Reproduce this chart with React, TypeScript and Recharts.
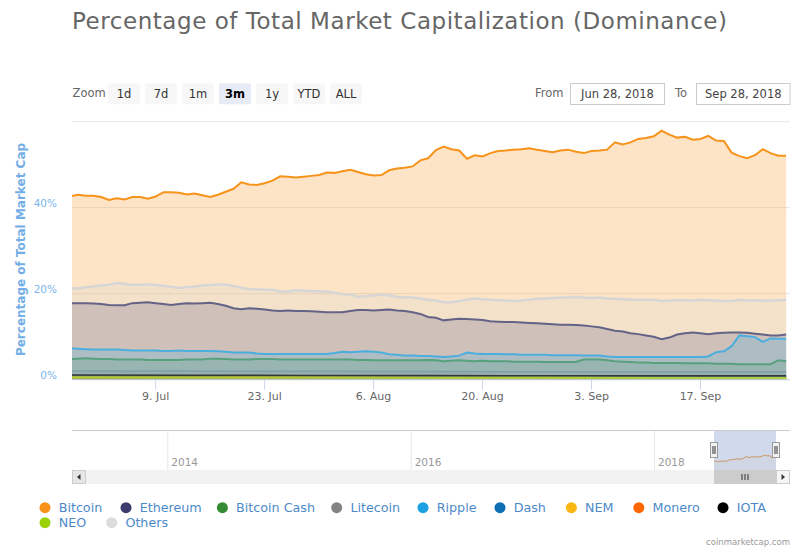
import React from 'react';
import { AreaChart, Area, XAxis, YAxis, CartesianGrid } from 'recharts';

// ---------- data (percent of total market cap), daily from Jun 28, 2018 ----------
const bitcoin = [
  42.6, 43.0, 42.8, 42.8, 42.5, 41.8, 42.2, 41.9, 42.5, 42.5,
  42.1, 42.6, 43.6, 43.6, 43.5, 43.1, 43.3, 42.9, 42.5, 43.0,
  43.7, 44.4, 45.9, 45.4, 45.3, 45.7, 46.3, 47.3, 47.2, 47.0,
  47.2, 47.4, 47.6, 48.2, 48.1, 48.5, 48.8, 48.3, 47.8, 47.5,
  47.6, 48.7, 49.1, 49.3, 49.6, 51.0, 51.5, 53.4, 54.2, 53.6,
  53.3, 51.4, 52.2, 51.9, 52.7, 53.2, 53.3, 53.5, 53.6, 53.8,
  53.5, 53.2, 52.9, 53.3, 53.5, 53.0, 52.7, 53.2, 53.3, 53.5,
  55.2, 54.7, 55.2, 56.0, 56.2, 56.6, 57.9, 57.0, 56.3, 56.5,
  55.8, 56.0, 56.7, 55.6, 55.5, 52.8, 52.0, 51.5, 52.2, 53.6,
  52.7, 52.1, 52.1,
];
const others = [
  21.3, 21.2, 21.5, 21.7, 21.9, 22.1, 22.5, 22.3, 22.0, 22.1,
  22.2, 22.0, 21.8, 21.6, 21.3, 21.5, 21.7, 21.9, 22.0, 22.2,
  22.1, 21.8, 21.4, 21.1, 21.0, 20.9, 20.9, 20.5, 20.5, 20.8,
  20.7, 20.6, 20.5, 20.5, 20.2, 19.9, 19.8, 19.3, 19.4, 19.6,
  19.8, 19.6, 19.3, 19.2, 19.1, 18.9, 18.6, 18.4, 18.0, 18.0,
  18.3, 18.6, 18.9, 18.7, 18.6, 18.5, 18.4, 18.3, 18.4, 18.6,
  18.8, 18.9, 19.0, 19.1, 19.1, 19.3, 19.1, 19.0, 19.1, 18.9,
  18.8, 18.7, 18.6, 18.6, 18.6, 18.6, 18.3, 18.4, 18.5, 18.5,
  18.4, 18.6, 18.5, 18.4, 18.3, 18.3, 18.6, 18.4, 18.5, 18.4,
  18.4, 18.5, 18.6,
];
const ethereum = [
  17.8, 17.8, 17.8, 17.7, 17.6, 17.4, 17.3, 17.3, 17.8, 17.9,
  18.0, 17.8, 17.6, 17.4, 17.6, 17.8, 17.7, 17.8, 17.9, 17.6,
  17.2, 16.6, 16.4, 16.6, 16.5, 16.3, 16.1, 16.0, 16.1, 16.0,
  16.0, 15.9, 15.8, 15.7, 15.7, 15.7, 16.0, 16.2, 16.2, 16.1,
  16.2, 16.3, 16.1, 16.0, 15.7, 15.3, 14.6, 14.4, 13.8, 14.0,
  14.2, 14.1, 14.0, 13.9, 13.6, 13.5, 13.4, 13.4, 13.3, 13.2,
  13.1, 13.0, 12.9, 12.8, 12.8, 12.7, 12.6, 12.4, 12.2, 11.8,
  11.4, 11.2, 10.8, 10.6, 10.3, 10.0, 9.4, 9.8, 10.5, 10.8,
  11.0, 10.8, 10.6, 10.8, 10.9, 11.0, 11.0, 10.9, 10.7, 10.5,
  10.3, 10.3, 10.5,
];
const ripple = [
  7.3, 7.2, 7.1, 7.0, 7.0, 7.0, 7.0, 6.9, 6.8, 6.8,
  6.8, 6.8, 6.7, 6.7, 6.8, 6.7, 6.7, 6.7, 6.7, 6.6,
  6.5, 6.3, 6.3, 6.3, 6.1, 6.0, 6.0, 6.0, 6.0, 6.0,
  6.0, 6.0, 6.0, 6.0, 6.2, 6.5, 6.4, 6.5, 6.6, 6.5,
  6.3, 5.9, 5.8, 5.6, 5.6, 5.5, 5.5, 5.4, 5.3, 5.4,
  5.6, 6.3, 6.1, 6.0, 6.0, 6.0, 5.9, 5.9, 5.8, 5.8,
  5.8, 5.8, 5.7, 5.7, 5.7, 5.7, 5.6, 5.6, 5.6, 5.4,
  5.3, 5.3, 5.3, 5.3, 5.3, 5.3, 5.3, 5.3, 5.3, 5.3,
  5.3, 5.3, 5.4, 6.4, 6.6, 7.8, 10.3, 10.1, 9.9, 8.8,
  9.6, 9.5, 9.5,
];
const bitcoinCash = [
  4.8, 4.9, 5.0, 4.9, 4.8, 4.8, 4.7, 4.7, 4.7, 4.7,
  4.6, 4.6, 4.6, 4.6, 4.6, 4.7, 4.7, 4.7, 4.9, 4.9,
  4.8, 4.7, 4.7, 4.7, 4.8, 4.8, 4.8, 4.7, 4.7, 4.7,
  4.7, 4.7, 4.7, 4.7, 4.7, 4.7, 4.7, 4.6, 4.6, 4.5,
  4.5, 4.5, 4.5, 4.5, 4.5, 4.5, 4.6, 4.5, 4.3, 4.4,
  4.5, 4.4, 4.3, 4.4, 4.3, 4.3, 4.3, 4.2, 4.2, 4.2,
  4.2, 4.1, 4.1, 4.1, 4.1, 4.1, 4.7, 4.7, 4.7, 4.5,
  4.3, 4.2, 4.1, 4.0, 4.0, 3.9, 3.9, 3.9, 3.9, 3.8,
  3.8, 3.8, 3.8, 3.7, 3.7, 3.7, 3.6, 3.6, 3.6, 3.6,
  3.6, 4.5, 4.3,
];

// smaller coins, read at a few dates (day offsets from Jun 28, 2018)
const smallDays = [0, 15, 30, 46, 61, 76, 92];
const litecoin = [2.0, 2.0, 1.95, 1.9, 1.85, 1.8, 1.8];
const iota = [1.1, 1.05, 1.0, 0.95, 0.9, 0.9, 0.9];
const dash = [0.8, 0.8, 0.75, 0.7, 0.65, 0.6, 0.6];
const monero = [0.6, 0.6, 0.6, 0.55, 0.55, 0.5, 0.5];
const neo = [0.55, 0.5, 0.5, 0.45, 0.45, 0.4, 0.4];
const nem = [0.45, 0.45, 0.4, 0.4, 0.35, 0.35, 0.35];

const xTicks = [11, 25, 39, 53, 67, 81];
const xTickLabels = ['9. Jul', '23. Jul', '6. Aug', '20. Aug', '3. Sep', '17. Sep'];
const yTicks = [0, 20, 40, 60];
const rangeButtons = ['1d', '7d', '1m', '3m', '1y', 'YTD', 'ALL'];
const selectedRange = '3m';
const fromDate = 'Jun 28, 2018';
const toDate = 'Sep 28, 2018';
const navigatorYears = ['2014', '2016', '2018'];

const legendNames = ['Bitcoin', 'Ethereum', 'Bitcoin Cash', 'Litecoin', 'Ripple', 'Dash', 'NEM', 'Monero', 'IOTA', 'NEO', 'Others'];
const legendColors = ['#f7931a', '#3c3c6c', '#358a34', '#838383', '#1ba1e2', '#0d6db5', '#fcb614', '#ff6600', '#000000', '#9ad10a', '#dcdcdc'];

// ---------- layout ----------
const FONT = '"DejaVu Sans", Verdana, sans-serif';
const legendLayout = [
  [45, 507.7], [126, 507.7], [222.4, 507.7], [336.7, 507.7], [423, 507.7],
  [500, 507.7], [571.4, 507.7], [638.8, 507.7], [723, 507.7],
  [45, 522.7], [111.7, 522.7],
];
const buttonX = [108, 145, 182, 219, 256, 293, 330];
const navYearX = [167.3, 410.7, 654];

const rows = bitcoin.map((v, i) => ({
  t: i,
  bitcoin: v,
  ethereum: ethereum[i],
  bitcoinCash: bitcoinCash[i],
  ripple: ripple[i],
  others: others[i],
}));
const smallRows = smallDays.map((t, i) => ({
  t,
  litecoin: litecoin[i],
  dash: dash[i],
  nem: nem[i],
  monero: monero[i],
  iota: iota[i],
  neo: neo[i],
}));

const XTick = (props: any) => {
  const { x, y, payload } = props;
  const idx = xTicks.indexOf(payload.value);
  return (
    <text x={x} y={y + 8.3} textAnchor="middle" fontSize={11} fill="#666" fontFamily={FONT}>
      {xTickLabels[idx]}
    </text>
  );
};
const YTick = (props: any) => {
  const { x, y, payload } = props;
  if (payload.value === 60) return <g />;
  return (
    <text x={x} y={y - 1} textAnchor="end" fontSize={10.5} fill="#7cb5ec" fontFamily={FONT}>
      {payload.value}%
    </text>
  );
};

const DOMAIN_X: [number, number] = [0.25, 92.5];

function mainArea(key: string, color: string, width: number, data?: any[]) {
  return (
    <Area
      key={key}
      type="linear"
      dataKey={key}
      data={data}
      stroke={color}
      strokeWidth={width}
      fill={color}
      fillOpacity={0.25}
      dot={false}
      activeDot={false}
      isAnimationActive={false}
    />
  );
}

export default function App() {
  return (
    <div style={{ position: 'absolute', left: 0, top: 0, width: 800, height: 550, background: '#fff', fontFamily: FONT }}>
      {/* static decorations */}
      <svg width={800} height={550} style={{ position: 'absolute', left: 0, top: 0 }}>
        <text x={72} y={28.6} fontSize={23} fill="#666" textLength={655} lengthAdjust="spacing" fontFamily={FONT}>
          Percentage of Total Market Capitalization (Dominance)
        </text>
        <text x={72.5} y={97.3} fontSize={11.5} fill="#666" fontFamily={FONT}>Zoom</text>
        {rangeButtons.map((b, i) => (
          <g key={b}>
            <rect x={buttonX[i]} y={83.3} width={32} height={21} rx={2} fill={b === selectedRange ? '#e6ebf5' : '#f7f7f7'} />
            <text x={buttonX[i] + 16} y={97.5} textAnchor="middle" fontSize={11.5} fontWeight={b === selectedRange ? 'bold' : 'normal'} fill={b === selectedRange ? '#000' : '#333'} fontFamily={FONT}>{b}</text>
          </g>
        ))}
        <text x={535} y={97.3} fontSize={11.5} fill="#666" fontFamily={FONT}>From</text>
        <rect x={570.5} y={83.5} width={94} height={21} fill="#fff" stroke="#cccccc" />
        <text x={617.5} y={97.5} textAnchor="middle" fontSize={11.5} fill="#444" fontFamily={FONT}>{fromDate}</text>
        <text x={675} y={97.3} fontSize={11.5} fill="#666" fontFamily={FONT}>To</text>
        <rect x={696.5} y={83.5} width={93.5} height={21} fill="#fff" stroke="#cccccc" />
        <text x={743.3} y={97.5} textAnchor="middle" fontSize={11.5} fill="#444" fontFamily={FONT}>{toDate}</text>

        <text transform="translate(20.7,249.5) rotate(-90)" dy="0.36em" textAnchor="middle" fontSize={12} fontWeight="bold" fill="#74aee6" fontFamily={FONT}>
          Percentage of Total Market Cap
        </text>

        {/* navigator */}
        <line x1={72} x2={790} y1={430.5} y2={430.5} stroke="#cccccc" />
        {navigatorYears.map((yr, i) => (
          <g key={yr}>
            <line x1={navYearX[i] + 0.5} x2={navYearX[i] + 0.5} y1={431} y2={470} stroke="#e6e6e6" />
            <text x={navYearX[i] + 4} y={466.3} fontSize={10.5} fill="#999" fontFamily={FONT}>{yr}</text>
          </g>
        ))}
        <rect x={72} y={470} width={718} height={14} fill="#f2f2f2" />
        <rect x={72.5} y={470.5} width={13} height={13} fill="#e6e6e6" stroke="#cccccc" />
        <path d="M 80.5 474 L 77 477 L 80.5 480 Z" fill="#333" />
        <rect x={714} y={470} width={62} height={14} fill="#cccccc" />
        <line x1={742} x2={742} y1={474} y2={480} stroke="#333" />
        <line x1={745} x2={745} y1={474} y2={480} stroke="#333" />
        <line x1={748} x2={748} y1={474} y2={480} stroke="#333" />
        <rect x={776.5} y={470.5} width={13} height={13} fill="#f5f5f5" stroke="#cccccc" />
        <path d="M 781.5 474 L 785 477 L 781.5 480 Z" fill="#333" />

        {/* legend */}
        {legendNames.map((n, i) => (
          <g key={n}>
            <circle cx={legendLayout[i][0]} cy={legendLayout[i][1]} r={5.5} fill={legendColors[i]} />
            <text x={legendLayout[i][0] + 13.7} y={legendLayout[i][1] + 4.6} fontSize={12.7} fill="#4d8ac9" fontFamily={FONT}>{n}</text>
          </g>
        ))}
        <text x={790} y={545} textAnchor="end" fontSize={8.5} fill="#999" fontFamily={FONT}>coinmarketcap.com</text>
      </svg>

      {/* main chart */}
      <div style={{ position: 'absolute', left: 0, top: 0 }}>
        <AreaChart width={800} height={420} data={rows} margin={{ top: 121.7, right: 10, bottom: 10.3, left: 0 }}>
          <CartesianGrid vertical={false} stroke="#e6e6e6" />
          <XAxis
            type="number"
            dataKey="t"
            domain={DOMAIN_X}
            allowDataOverflow
            ticks={xTicks}
            interval={0}
            height={30}
            tickSize={10}
            tickMargin={2}
            axisLine={{ stroke: '#ccd6eb' }}
            tickLine={{ stroke: '#ccd6eb' }}
            tick={(p: any) => <XTick {...p} />}
          />
          <YAxis
            type="number"
            domain={[0, 60]}
            ticks={yTicks}
            interval={0}
            width={72}
            tickSize={0}
            tickMargin={15}
            axisLine={false}
            tickLine={false}
            tick={(p: any) => <YTick {...p} />}
          />
          {mainArea('bitcoin', legendColors[0], 2)}
          {mainArea('ethereum', legendColors[1], 2)}
          {mainArea('bitcoinCash', legendColors[2], 2)}
          {mainArea('litecoin', legendColors[3], 1.5, smallRows)}
          {mainArea('ripple', legendColors[4], 2)}
          {mainArea('dash', legendColors[5], 1.5, smallRows)}
          {mainArea('nem', legendColors[6], 1.5, smallRows)}
          {mainArea('monero', legendColors[7], 1.5, smallRows)}
          {mainArea('iota', legendColors[8], 1.5, smallRows)}
          {mainArea('neo', legendColors[9], 2, smallRows)}
          {mainArea('others', '#d6d6d6', 2.5)}
        </AreaChart>
      </div>

      {/* navigator series */}
      <div style={{ position: 'absolute', left: 714, top: 430 }}>
        <AreaChart width={62} height={40} data={rows} margin={{ top: 0, right: 0, bottom: 0, left: 0 }}>
          <XAxis hide type="number" dataKey="t" domain={DOMAIN_X} allowDataOverflow />
          <YAxis hide type="number" domain={[21.5, 118.6]} allowDataOverflow />
          <Area type="linear" dataKey="bitcoin" stroke="#f7931a" strokeWidth={1} fill="#f7931a" fillOpacity={0.05} dot={false} activeDot={false} isAnimationActive={false} />
        </AreaChart>
      </div>

      {/* navigator mask & handles */}
      <svg width={800} height={550} style={{ position: 'absolute', left: 0, top: 0, pointerEvents: 'none' }}>
        <rect x={714} y={431} width={62} height={39} fill="rgba(102,133,194,0.3)" />
        {[714, 776].map((hx) => (
          <g key={hx}>
            <rect x={hx - 3.5} y={442.5} width={7} height={15} fill="#f2f2f2" stroke="#999" />
            <line x1={hx - 1} x2={hx - 1} y1={446} y2={454} stroke="#333" />
            <line x1={hx + 1} x2={hx + 1} y1={446} y2={454} stroke="#333" />
          </g>
        ))}
      </svg>
    </div>
  );
}
